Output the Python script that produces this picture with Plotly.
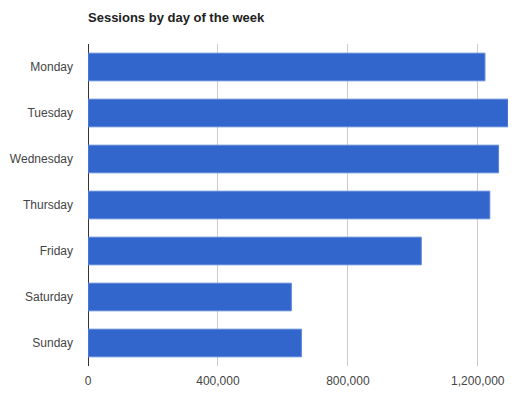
import plotly.graph_objects as go

days = ["Monday", "Tuesday", "Wednesday", "Thursday", "Friday", "Saturday", "Sunday"]
sessions = [1222000, 1293000, 1264000, 1237000, 1026000, 626000, 657000]
tick_vals = [0, 400000, 800000, 1200000]
tick_text = ["0", "400,000", "800,000", "1,200,000"]

# page body has an 8px default margin; size the figure to fit the 518x395 window
W, H, OFF = 510, 387, 8

fig = go.Figure(go.Bar(
    x=sessions, y=days, orientation="h",
    marker=dict(color="#3366cc", line=dict(color="#5b85d9", width=1)),
))

fig.update_layout(
    width=W, height=H,
    margin=dict(l=88 - OFF, r=10, t=44 - OFF, b=29),
    paper_bgcolor="white", plot_bgcolor="white",
    bargap=0.4,
    showlegend=False,
    font=dict(family="Liberation Sans, Arial, sans-serif", size=12, color="#444444"),
    title=dict(text="<b>Sessions by day of the week</b>", x=(88 - OFF) / W, xanchor="left",
               y=1 - (17 - OFF) / H, yanchor="middle",
               font=dict(family="Liberation Sans, Arial, sans-serif", size=13, color="#222222")),
)

fig.update_xaxes(
    range=[0, max(sessions)], tickvals=tick_vals, ticktext=tick_text,
    showgrid=True, gridcolor="#cccccc", gridwidth=1,
    zeroline=True, zerolinecolor="#333333", zerolinewidth=1,
    showline=False, ticks="", ticklabelstandoff=6, automargin=False,
)
fig.update_yaxes(
    autorange="reversed", showgrid=False, zeroline=False, showline=False,
    ticks="", ticklabelstandoff=14, automargin=False,
)

fig.write_html("out.html")
